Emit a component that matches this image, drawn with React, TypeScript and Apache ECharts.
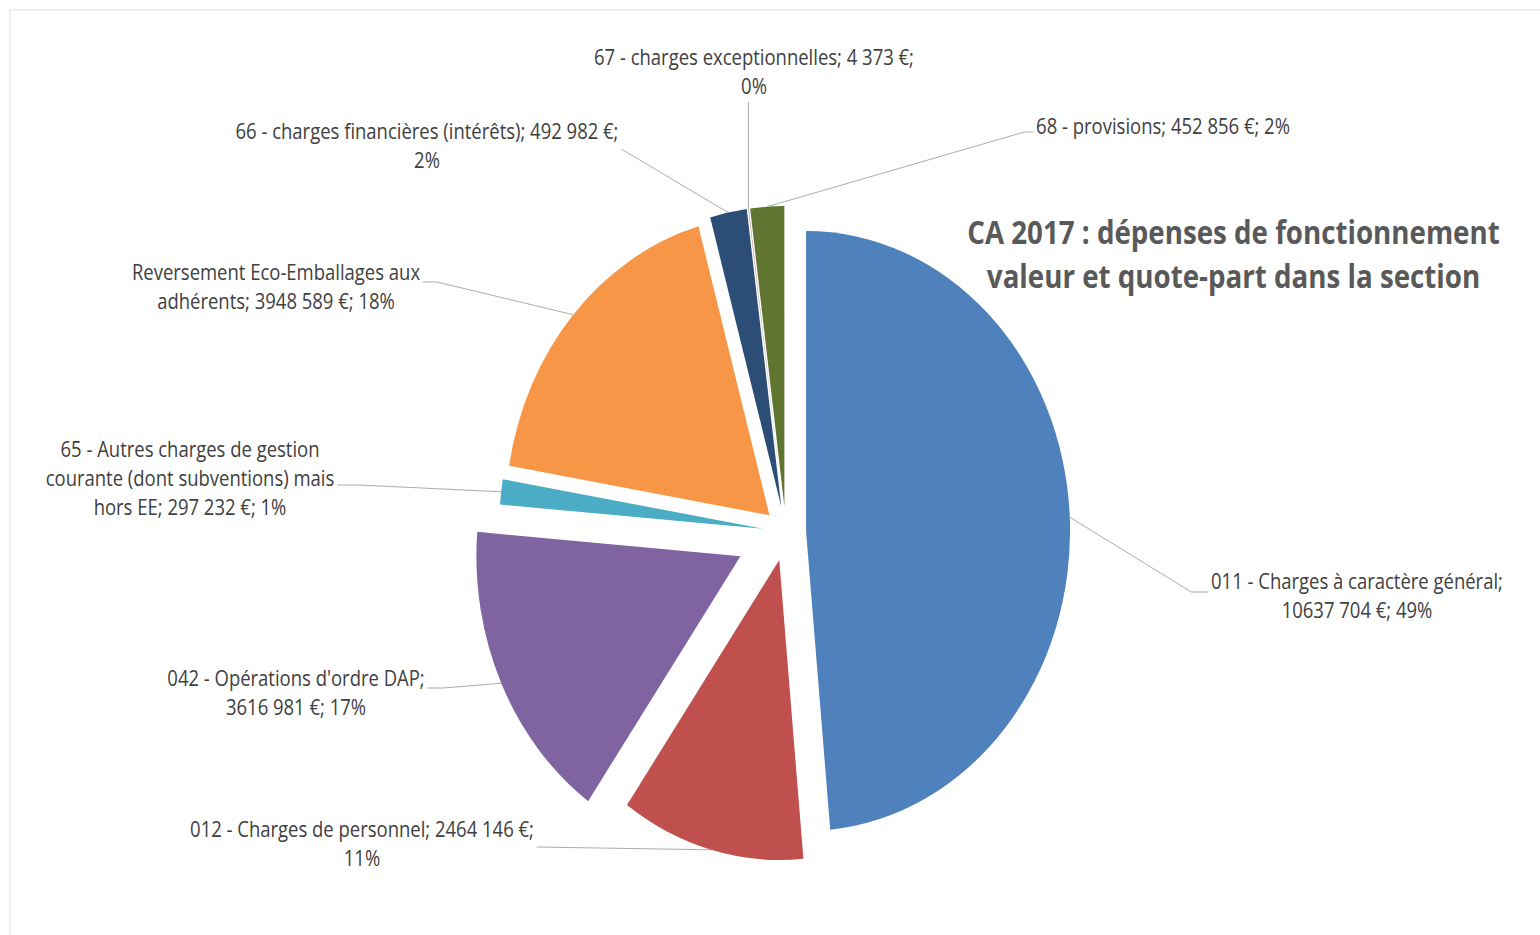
import React, { useEffect, useRef } from "react";
import * as echarts from "echarts";

// horizontal squeeze of the original picture
const SX = 0.88;
const W = 1540;
const H = 935;
const CW = W / SX;

const categories = [
  "011 - Charges à caractère général",
  "012 - Charges de personnel",
  "042 - Opérations d'ordre DAP",
  "65 - Autres charges de gestion\ncourante (dont subventions) mais\nhors EE",
  "Reversement Eco-Emballages aux\nadhérents",
  "66 - charges financières (intérêts)",
  "67 - charges exceptionnelles",
  "68 - provisions",
];
const values = [10637704, 2464146, 3616981, 297232, 3948589, 492982, 4373, 452856];
const colors = ["#4F81BD", "#C0504D", "#8064A2", "#4BACC6", "#F79646", "#2C4D75", "#772C2A", "#5F7530"];
// separators after the name and after the value
const separators = [
  [";\n", "; "],
  ["; ", ";\n"],
  [";\n", "; "],
  ["; ", "; "],
  ["; ", "; "],
  ["; ", ";\n"],
  ["; ", ";\n"],
  ["; ", "; "],
];
const titleLines = ["CA 2017 : dépenses de fonctionnement", "valeur et quote-part dans la section"];

// layout (screen pixels)
const pieCenter = [893 * SX, 532];
const pieRadius = 300;
const explode = [23, 29, 57, 26, 25, 26, 26, 26];
const labelAnchors = [
  [1357, 596],
  [362, 844],
  [296, 693],
  [190, 478],
  [276, 287],
  [427, 146],
  [754, 72],
  [1163, 126],
];
const labelSide = ["right", "left", "left", "left", "left", "left", "top", "right"];
const labelLineY = [592, 847, 688, 485, 282, 149, 0, 132];
const elbowLen = [17, 0, 16, 22, 14, 0, 0, 9];

function fmtValue(n: number) {
  const th = Math.floor(n / 1000);
  const rest = String(n % 1000).padStart(3, "0");
  return `${th} ${rest} €`;
}

export default function App() {
  const ref = useRef<HTMLDivElement>(null);
  useEffect(() => {
    if (!ref.current) return;
    const chart = echarts.init(ref.current, undefined, { renderer: "svg" });
    const total = values.reduce((a, b) => a + b, 0);
    const cum: number[] = [];
    let acc = 0;
    values.forEach((v) => {
      cum.push(acc);
      acc += v;
    });
    const midAngle = values.map((v, i) => ((cum[i] + v / 2) / total) * Math.PI * 2);
    const cx0 = pieCenter[0] / SX;
    const cy0 = pieCenter[1];
    const centers = values.map((_, i) => [
      cx0 + explode[i] * Math.sin(midAngle[i]),
      cy0 - explode[i] * Math.cos(midAngle[i]),
    ]);
    const labelText = values.map((v, i) => {
      const pct = Math.round((v / total) * 100);
      return `${categories[i]}${separators[i][0]}${fmtValue(v)}${separators[i][1]}${pct}%`;
    });

    const series = values.map((_, s) => ({
      type: "pie",
      name: categories[s],
      center: centers[s],
      radius: pieRadius,
      startAngle: 90,
      clockwise: true,
      avoidLabelOverlap: false,
      silent: true,
      emphasis: { disabled: true },
      itemStyle: { borderWidth: 0 },
      labelLine: { show: true, lineStyle: { color: "#A6A6A6", width: 1 }, length: 10, length2: 10 },
      label: {
        show: true,
        position: "outside",
        fontFamily: "Open Sans",
        fontSize: 21,
        lineHeight: 29,
        color: "#404040",
        align: "center",
        formatter: (p: any) => labelText[p.dataIndex],
      },
      data: values.map((v, i) => ({
        name: categories[i],
        value: v,
        itemStyle: { color: i === s ? colors[i] : "rgba(0,0,0,0)", borderWidth: 0 },
        label: { show: i === s },
        labelLine: { show: i === s },
      })),
      labelLayout: (p: any) => {
        const i = p.dataIndex;
        if (i !== s) return {};
        const ax = labelAnchors[i][0] / SX;
        const ay = labelAnchors[i][1];
        const w = p.labelRect.width;
        const h = p.labelRect.height;
        const start = [
          centers[i][0] + pieRadius * Math.sin(midAngle[i]),
          centers[i][1] - pieRadius * Math.cos(midAngle[i]),
        ];
        let end: number[];
        let elbow: number[];
        if (labelSide[i] === "top") {
          end = [start[0], ay + h / 2 + 1];
          elbow = end;
        } else if (labelSide[i] === "left") {
          end = [ax + w / 2 + 3, labelLineY[i]];
          elbow = [end[0] + elbowLen[i] / SX, labelLineY[i]];
        } else {
          end = [ax - w / 2 - 3, labelLineY[i]];
          elbow = [end[0] - elbowLen[i] / SX, labelLineY[i]];
        }
        return {
          x: ax,
          y: ay,
          align: "center",
          verticalAlign: "middle",
          labelLinePoints: [start, elbow, end],
        };
      },
    }));

    chart.setOption({
      animation: false,
      backgroundColor: "#ffffff",
      graphic: [
        {
          type: "rect",
          silent: true,
          shape: { x: 10 / SX, y: 10, width: CW, height: H },
          style: { fill: "none", stroke: "#D9D9D9", lineWidth: 1 },
        },
        {
          type: "text",
          x: 1233.5 / SX,
          y: 254,
          style: {
            text: titleLines.join("\n"),
            fill: "#595959",
            font: "bold 31.5px 'Open Sans'",
            lineHeight: 44,
            align: "center",
            verticalAlign: "middle",
          },
        },
      ],
      series,
    });
    return () => chart.dispose();
  }, []);
  return (
    <div
      style={{
        position: "fixed",
        left: 0,
        top: 0,
        width: W,
        height: H,
        overflow: "hidden",
        background: "#fff",
      }}
    >
      <div
        ref={ref}
        style={{ width: CW, height: H, transform: `scaleX(${SX})`, transformOrigin: "0 0" }}
      />
    </div>
  );
}
